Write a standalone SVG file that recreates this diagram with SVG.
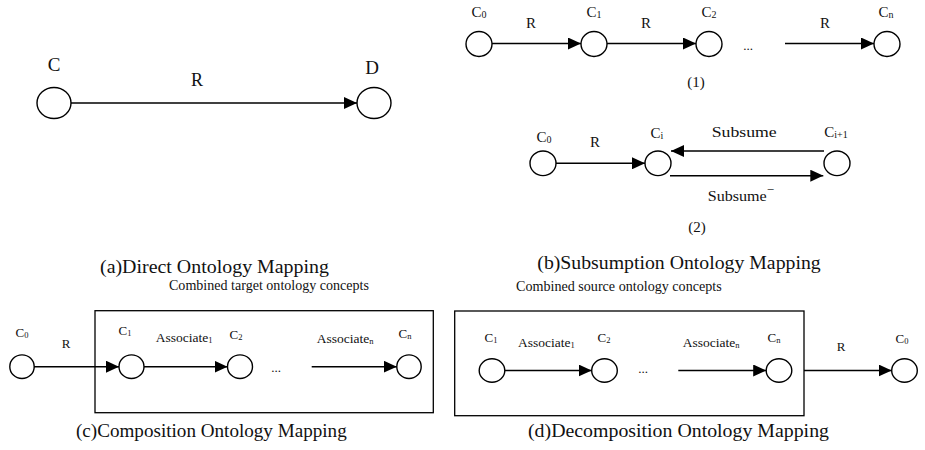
<svg xmlns="http://www.w3.org/2000/svg" width="925" height="450" viewBox="0 0 925 450">
<defs>
<style>
text{font-family:"Liberation Serif","Times New Roman",serif;fill:#111;}
.n{fill:#fff;stroke:#000;stroke-width:1.4;}
.e{stroke:#000;stroke-width:1.4;fill:none;marker-end:url(#ah);}
.box{fill:none;stroke:#000;stroke-width:1.3;}
.m{text-anchor:middle;}
.cap{font-size:18px;}
</style>
<marker id="ah" markerUnits="userSpaceOnUse" markerWidth="13" markerHeight="12" refX="13" refY="6" orient="auto">
<path d="M0,0 L13,6 L0,12 z" fill="#000"/>
</marker>
</defs>
<rect width="925" height="450" fill="#fff"/>

<!-- (a) -->
<g id="a-C"><ellipse class="n" cx="54" cy="103" rx="17" ry="15.5"/><text class="m" x="54" y="71" font-size="19">C</text></g>
<g id="a-D"><ellipse class="n" cx="374" cy="103" rx="17" ry="15.5"/><text class="m" x="372" y="74" font-size="19">D</text></g>

<!-- (b)(1) -->
<g id="b1-C0"><ellipse class="n" cx="479" cy="44" rx="13" ry="12.5"/><text class="m" x="479" y="17" font-size="15">C<tspan font-size="10" dy="1">0</tspan></text></g>
<g id="b1-C1"><ellipse class="n" cx="594" cy="44" rx="13" ry="12.5"/><text class="m" x="594" y="17" font-size="15">C<tspan font-size="10" dy="1">1</tspan></text></g>
<g id="b1-C2"><ellipse class="n" cx="709" cy="44" rx="13" ry="12.5"/><text class="m" x="709" y="17" font-size="15">C<tspan font-size="10" dy="1">2</tspan></text></g>
<g id="b1-Cn"><ellipse class="n" cx="887" cy="44" rx="13" ry="12.5"/><text class="m" x="886" y="17" font-size="15">C<tspan font-size="10" dy="1">n</tspan></text></g>
<text class="m" x="748" y="50" font-size="13">...</text>
<text class="m" x="696" y="87" font-size="15">(1)</text>

<!-- (b)(2) -->
<g id="b2-C0"><ellipse class="n" cx="543" cy="163.3" rx="13" ry="12.3"/><text class="m" x="544" y="142" font-size="15">C<tspan font-size="10" dy="1">0</tspan></text></g>
<g id="b2-Ci"><ellipse class="n" cx="658" cy="163.3" rx="13" ry="12.3"/><text class="m" x="657" y="137.5" font-size="15">C<tspan font-size="10" dy="1">i</tspan></text></g>
<g id="b2-Ci1"><ellipse class="n" cx="837" cy="163.3" rx="13" ry="12.3"/><text class="m" x="836" y="137" font-size="15">C<tspan font-size="10" dy="1">i+1</tspan></text></g>
<text class="m" x="697" y="232" font-size="15">(2)</text>

<!-- captions -->
<text class="cap" x="100" y="273.3" textLength="229" lengthAdjust="spacingAndGlyphs">(a)Direct Ontology Mapping</text>
<text class="cap" x="537.3" y="269.3" textLength="283.4" lengthAdjust="spacingAndGlyphs">(b)Subsumption Ontology Mapping</text>
<text class="cap" x="76" y="436.7" textLength="270.7" lengthAdjust="spacingAndGlyphs">(c)Composition Ontology Mapping</text>
<text class="cap" x="528" y="436.7" textLength="301" lengthAdjust="spacingAndGlyphs">(d)Decomposition Ontology Mapping</text>

<!-- (c) -->
<text x="169" y="290" font-size="14" textLength="200" lengthAdjust="spacingAndGlyphs">Combined target ontology concepts</text>
<g id="c-box"><rect class="box" x="95" y="310.7" width="338.3" height="102"/></g>
<g id="c-C0"><ellipse class="n" cx="22" cy="366.7" rx="12.2" ry="11.8"/><text class="m" x="22" y="336.7" font-size="13">C<tspan font-size="8.5" dy="1">0</tspan></text></g>
<g id="c-C1"><ellipse class="n" cx="131.5" cy="366.7" rx="12.5" ry="11.8"/><text class="m" x="125" y="335" font-size="13">C<tspan font-size="8.5" dy="1">1</tspan></text></g>
<g id="c-C2"><ellipse class="n" cx="240" cy="366.7" rx="12.5" ry="11.8"/><text class="m" x="236" y="339.3" font-size="13">C<tspan font-size="8.5" dy="1">2</tspan></text></g>
<g id="c-Cn"><ellipse class="n" cx="409" cy="366.7" rx="12.2" ry="11.8"/><text class="m" x="405" y="338" font-size="13">C<tspan font-size="8.5" dy="1">n</tspan></text></g>
<text class="m" x="276" y="372" font-size="13">...</text>

<!-- (d) -->
<text x="516" y="290.7" font-size="14" textLength="205.7" lengthAdjust="spacingAndGlyphs">Combined source ontology concepts</text>
<g id="d-box"><rect class="box" x="454.7" y="311" width="349.3" height="104.7"/></g>
<g id="d-C1"><ellipse class="n" cx="492" cy="370.5" rx="12.8" ry="11.8"/><text class="m" x="491" y="342" font-size="13">C<tspan font-size="8.5" dy="1">1</tspan></text></g>
<g id="d-C2"><ellipse class="n" cx="604.5" cy="370.5" rx="12.8" ry="11.8"/><text class="m" x="604" y="342" font-size="13">C<tspan font-size="8.5" dy="1">2</tspan></text></g>
<g id="d-Cn"><ellipse class="n" cx="779" cy="370.5" rx="12.8" ry="11.8"/><text class="m" x="774" y="342" font-size="13">C<tspan font-size="8.5" dy="1">n</tspan></text></g>
<g id="d-C0"><ellipse class="n" cx="904.5" cy="370.5" rx="12.8" ry="11.8"/><text class="m" x="902" y="342.7" font-size="13">C<tspan font-size="8.5" dy="1">0</tspan></text></g>
<text class="m" x="643" y="373" font-size="13">...</text>

<g id="connectors">
<line class="e" x1="71" y1="103" x2="357" y2="103"/>
<text class="m" x="197" y="86" font-size="18">R</text>

<line class="e" x1="492" y1="43.5" x2="581" y2="43.5"/>
<line class="e" x1="607" y1="43.5" x2="696" y2="43.5"/>
<line class="e" x1="785" y1="43.5" x2="874" y2="43.5"/>
<text class="m" x="531" y="27.7" font-size="15">R</text>
<text class="m" x="646" y="27.7" font-size="15">R</text>
<text class="m" x="825" y="27.7" font-size="15">R</text>

<line class="e" x1="556" y1="163.3" x2="645" y2="163.3"/>
<text class="m" x="595" y="146.7" font-size="15">R</text>
<line class="e" x1="824" y1="151" x2="671" y2="151"/>
<text x="711.7" y="136.7" font-size="15" textLength="65" lengthAdjust="spacingAndGlyphs">Subsume</text>
<line class="e" x1="670" y1="175.7" x2="823.3" y2="175.7"/>
<text x="707.7" y="200.7" font-size="15"><tspan textLength="59" lengthAdjust="spacingAndGlyphs">Subsume</tspan><tspan font-size="13" dy="-7">−</tspan></text>

<line class="e" x1="34" y1="366.7" x2="119" y2="366.7"/>
<text class="m" x="66" y="348.3" font-size="13">R</text>
<line class="e" x1="144" y1="366.7" x2="227.5" y2="366.7"/>
<text x="155.7" y="341.7" font-size="13.5">Associate<tspan font-size="8.5" dy="1">1</tspan></text>
<line class="e" x1="311.7" y1="366.7" x2="396.8" y2="366.7"/>
<text x="316.7" y="342.7" font-size="13.5">Associate<tspan font-size="8.5" dy="1">n</tspan></text>

<line class="e" x1="505" y1="370.5" x2="591.7" y2="370.5"/>
<text x="518" y="346.7" font-size="13.5">Associate<tspan font-size="8.5" dy="1">1</tspan></text>
<line class="e" x1="678.3" y1="370.5" x2="766.2" y2="370.5"/>
<text x="682.7" y="346.7" font-size="13.5">Associate<tspan font-size="8.5" dy="1">n</tspan></text>
<line class="e" x1="804" y1="370.5" x2="891.7" y2="370.5"/>
<text class="m" x="841" y="351" font-size="13">R</text>
</g>
</svg>
